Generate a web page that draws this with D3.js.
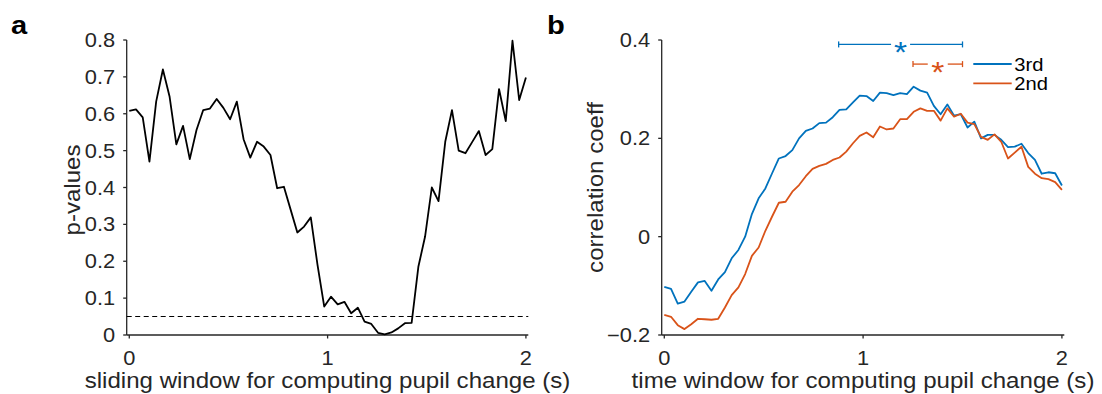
<!DOCTYPE html>
<html><head><meta charset="utf-8">
<script src="https://cdn.jsdelivr.net/npm/d3@7"></script>
<style>html,body{margin:0;padding:0;background:#fff;}svg{display:block;}</style>
</head><body>
<svg id="chart" width="1102" height="394"></svg>
<script>
// ---------- data ----------
const nPoints = 60;
const windowTimes = d3.range(nPoints).map(i => i * 2 / (nPoints - 1));
const pValues = [0.608,0.612,0.590,0.470,0.633,0.720,0.646,0.517,0.567,0.477,
  0.556,0.610,0.614,0.640,0.616,0.585,0.633,0.531,0.481,0.524,
  0.511,0.488,0.398,0.402,0.340,0.278,0.294,0.319,0.190,0.077,
  0.104,0.083,0.090,0.059,0.074,0.036,0.030,0.006,0.002,0.007,
  0.018,0.032,0.033,0.185,0.267,0.400,0.363,0.524,0.610,0.500,
  0.493,0.523,0.553,0.488,0.504,0.667,0.580,0.798,0.637,0.698];
const pThreshold = 0.05;
const corr3rd = [-0.102,-0.106,-0.136,-0.132,-0.112,-0.093,-0.090,-0.110,-0.087,-0.072,
  -0.044,-0.027,0.000,0.046,0.078,0.098,0.129,0.159,0.164,0.176,
  0.200,0.215,0.220,0.231,0.232,0.243,0.258,0.259,0.273,0.287,
  0.286,0.276,0.293,0.292,0.288,0.292,0.290,0.305,0.297,0.293,
  0.266,0.249,0.269,0.246,0.249,0.222,0.234,0.200,0.207,0.207,
  0.197,0.182,0.183,0.189,0.170,0.156,0.128,0.131,0.129,0.104];
const corr2nd = [-0.159,-0.163,-0.180,-0.188,-0.178,-0.167,-0.168,-0.169,-0.167,-0.144,
  -0.119,-0.103,-0.076,-0.039,-0.022,0.012,0.041,0.069,0.071,0.0915,
  0.105,0.123,0.138,0.144,0.148,0.156,0.161,0.173,0.190,0.205,
  0.212,0.202,0.224,0.218,0.220,0.239,0.239,0.254,0.261,0.256,
  0.256,0.236,0.261,0.244,0.250,0.232,0.229,0.203,0.197,0.208,
  0.193,0.159,0.171,0.183,0.142,0.128,0.119,0.117,0.111,0.095];
const seriesNames = ["3rd", "2nd"];
// significance bars: [start, end, level]
const sigStart = [0.877, 1.251];
const sigEnd = [1.500, 1.500];
const sigLevel = [0.391, 0.351];
const ticksAX = [0, 1, 2];
const ticksAY = [0, 0.1, 0.2, 0.3, 0.4, 0.5, 0.6, 0.7, 0.8];
const ticksBX = [0, 1, 2];
const ticksBY = [-0.2, 0, 0.2, 0.4];

// ---------- style ----------
const axisColor = "#262626";
const colors = ["#0072BD", "#D95319"];
const FONT = "'Liberation Sans', Arial, Helvetica, sans-serif";
const SX = 1.12; // horizontal glyph stretch of the reference
const tickFS = 19.5, labelFS = 21.5;

const svg = d3.select("#chart");

function txt(g, x, y, s, opts = {}) {
  const t = g.append("text")
    .attr("transform", `translate(${x},${y})` + (opts.rot ? ` rotate(${opts.rot})` : "") + ` scale(${SX},1)`)
    .attr("font-family", FONT)
    .attr("font-size", opts.size || tickFS)
    .attr("font-weight", opts.bold ? "bold" : "normal")
    .attr("fill", opts.color || axisColor)
    .attr("text-anchor", opts.anchor || "middle")
    .text(s);
  return t;
}

function drawAxes(xs, ys, xt, yt, fmtY) {
  const g = svg.append("g");
  const [x0, x1] = xs.range();
  const [yb, yt0] = ys.range();
  g.append("line").attr("x1", x0).attr("x2", x1).attr("y1", yb).attr("y2", yb)
    .attr("stroke", axisColor).attr("stroke-width", 1.3);
  g.append("line").attr("x1", x0).attr("x2", x0).attr("y1", yb).attr("y2", yt0)
    .attr("stroke", axisColor).attr("stroke-width", 1.3);
  xt.forEach(v => {
    g.append("line").attr("x1", xs(v)).attr("x2", xs(v)).attr("y1", yb).attr("y2", yb + 3.5)
      .attr("stroke", axisColor).attr("stroke-width", 1.3);
    txt(g, xs(v), 364.5, String(v));
  });
  yt.forEach(v => {
    g.append("line").attr("x1", x0).attr("x2", x0 - 3.5).attr("y1", ys(v)).attr("y2", ys(v))
      .attr("stroke", axisColor).attr("stroke-width", 1.3);
    txt(g, x0 - 11.5, ys(v) + 7, fmtY(v), { anchor: "end" });
  });
  return g;
}

// ---------- panel a ----------
const xa = d3.scaleLinear().domain([-0.013, 2.012]).range([126.7, 528.3]);
const ya = d3.scaleLinear().domain([0, 0.8]).range([335, 40]);
const ga = drawAxes(xa, ya, ticksAX, ticksAY, v => v === 0 ? "0" : d3.format(".1f")(v));
ga.append("line").attr("x1", xa.range()[0]).attr("x2", xa.range()[1])
  .attr("y1", ya(pThreshold)).attr("y2", ya(pThreshold))
  .attr("stroke", "#000").attr("stroke-width", 1.1).attr("stroke-dasharray", "5,3.5");
ga.append("path")
  .attr("d", d3.line().x((d, i) => xa(windowTimes[i])).y(d => ya(d))(pValues))
  .attr("fill", "none").attr("stroke", "#000").attr("stroke-width", 1.8).attr("stroke-linejoin", "round");
txt(ga, 327.5, 388, "sliding window for computing pupil change (s)", { size: labelFS });
txt(ga, 80, 190, "p-values", { size: labelFS, rot: -90 });
txt(ga, 11, 34, "a", { size: 26, bold: true, anchor: "start", color: "#000" });

// ---------- panel b ----------
const xb = d3.scaleLinear().domain([-0.013, 2.012]).range([661.7, 1064.3]);
const yb = d3.scaleLinear().domain([-0.2, 0.4]).range([335, 40]);
const gb = drawAxes(xb, yb, ticksBX, ticksBY, v => v === 0 ? "0" : d3.format(".1f")(v));
[corr3rd, corr2nd].forEach((s, k) => {
  gb.append("path")
    .attr("d", d3.line().x((d, i) => xb(windowTimes[i])).y(d => yb(d))(s))
    .attr("fill", "none").attr("stroke", colors[k]).attr("stroke-width", 1.8).attr("stroke-linejoin", "round");
});
// significance bars
sigStart.forEach((s, k) => {
  const a = xb(s), b = xb(sigEnd[k]), y = yb(sigLevel[k]), m = (a + b) / 2;
  const gap = k === 0 ? 9.5 : 10;
  const c = colors[k];
  gb.append("line").attr("x1", a).attr("x2", m - gap).attr("y1", y).attr("y2", y).attr("stroke", c).attr("stroke-width", 1.3);
  gb.append("line").attr("x1", m + gap).attr("x2", b).attr("y1", y).attr("y2", y).attr("stroke", c).attr("stroke-width", 1.3);
  [a, b].forEach(xx => gb.append("line").attr("x1", xx).attr("x2", xx).attr("y1", y - 3).attr("y2", y + 3).attr("stroke", c).attr("stroke-width", 1.3));
  txt(gb, m, y + 17.5, "*", { size: 30, color: c });
});
// legend
seriesNames.forEach((name, k) => {
  const y = 64 + k * 19.3;
  gb.append("line").attr("x1", 973.3).attr("x2", 1011.7).attr("y1", y).attr("y2", y)
    .attr("stroke", colors[k]).attr("stroke-width", 1.8);
  txt(gb, 1014.3, y + 6.5, name, { anchor: "start", color: "#000", size: 18 });
});
txt(gb, 863, 388, "time window for computing pupil change (s)", { size: labelFS });
txt(gb, 603, 187.5, "correlation coeff", { size: labelFS, rot: -90 });
txt(gb, 547, 34, "b", { size: 26, bold: true, anchor: "start", color: "#000" });
</script>
</body></html>
